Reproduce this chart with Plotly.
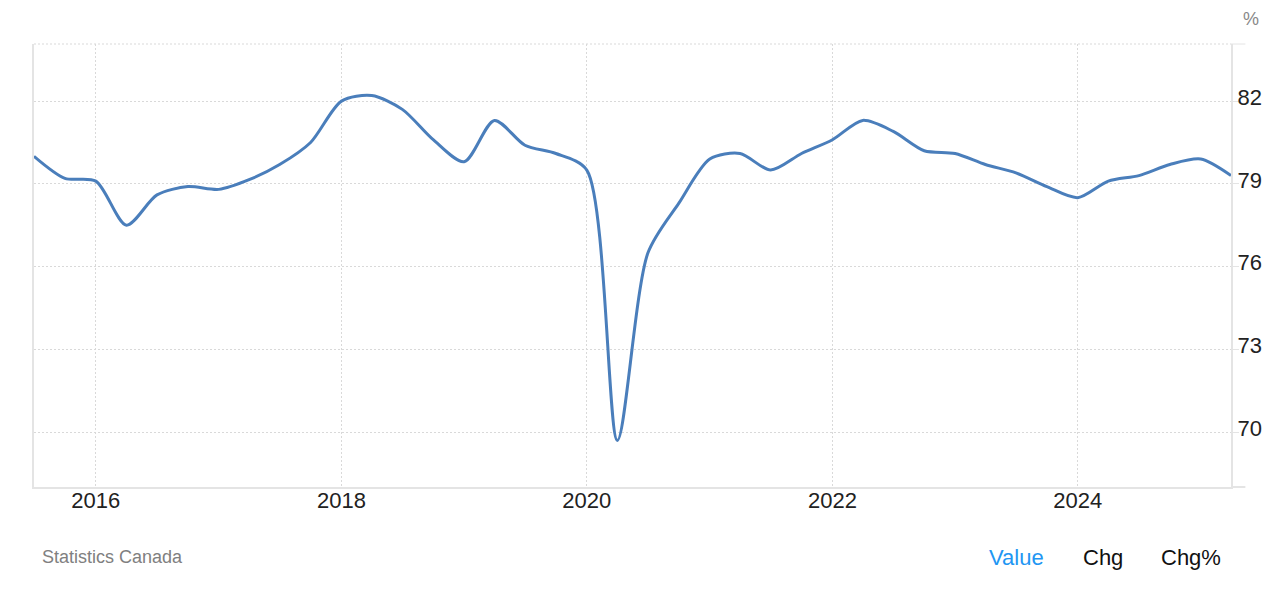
import plotly.graph_objects as go

quarters = [
    "2015-07-01", "2015-10-01",
    "2016-01-01", "2016-04-01", "2016-07-01", "2016-10-01",
    "2017-01-01", "2017-04-01", "2017-07-01", "2017-10-01",
    "2018-01-01", "2018-04-01", "2018-07-01", "2018-10-01",
    "2019-01-01", "2019-04-01", "2019-07-01", "2019-10-01",
    "2020-01-01", "2020-04-01", "2020-07-01", "2020-10-01",
    "2021-01-01", "2021-04-01", "2021-07-01", "2021-10-01",
    "2022-01-01", "2022-04-01", "2022-07-01", "2022-10-01",
    "2023-01-01", "2023-04-01", "2023-07-01", "2023-10-01",
    "2024-01-01", "2024-04-01", "2024-07-01", "2024-10-01",
    "2025-01-01", "2025-04-01",
]
capacity_utilization = [
    80.0, 79.2,
    79.1, 77.5, 78.6, 78.9,
    78.8, 79.15, 79.7, 80.5,
    82.0, 82.2, 81.7, 80.6,
    79.8, 81.3, 80.4, 80.1,
    79.5, 69.7, 76.5, 78.3,
    79.9, 80.1, 79.5, 80.1,
    80.6, 81.3, 80.9, 80.2,
    80.1, 79.7, 79.4, 78.9,
    78.5, 79.1, 79.3, 79.7,
    79.9, 79.3,
]
y_ticks = [70, 73, 76, 79, 82]
x_ticks = ["2016-01-01", "2018-01-01", "2020-01-01", "2022-01-01", "2024-01-01"]
x_tick_labels = ["2016", "2018", "2020", "2022", "2024"]
y_range = [68.01, 84.07]

FONT = "Liberation Sans, Arial, sans-serif"
GRID = "#d9d9d9"
BORDER = "#e4e4e4"

fig = go.Figure()
fig.add_trace(go.Scatter(
    x=quarters, y=capacity_utilization, mode="lines",
    line=dict(color="#4A7EBB", width=3, shape="spline", smoothing=0.8),
    hoverinfo="x+y", showlegend=False,
))

fig.update_layout(
    width=1263, height=585,
    margin=dict(l=26, r=40, t=36, b=106, autoexpand=False),
    paper_bgcolor="white", plot_bgcolor="white",
    font=dict(family=FONT, color="#222"),
    xaxis=dict(
        range=[quarters[0], quarters[-1]],
        tickvals=x_ticks, ticktext=x_tick_labels,
        tickfont=dict(size=22, color="#222"),
        showgrid=True, gridcolor=GRID, griddash="2px,2px", gridwidth=1,
        showline=True, linecolor=BORDER, linewidth=2,
        ticks="", ticklabelstandoff=-7, automargin=False,
        zeroline=False, fixedrange=True,
    ),
    yaxis=dict(
        side="right", range=y_range,
        tickvals=y_ticks, ticktext=[str(v) for v in y_ticks],
        tickfont=dict(size=22, color="#222"),
        showgrid=True, gridcolor=GRID, griddash="2px,2px", gridwidth=1,
        showline=True, mirror=True, linecolor=BORDER, linewidth=2,
        ticks="outside", ticklen=6, tickcolor=BORDER,
        ticklabelshift=-4, ticklabelstandoff=-6, automargin=False,
        zeroline=False, fixedrange=True,
    ),
    shapes=[
        dict(type="line", xref="paper", yref="paper", x0=0, x1=1, y0=1, y1=1,
             line=dict(color=GRID, width=1, dash="2px,2px")),
        dict(type="line", xref="paper", yref="paper", x0=1, x1=1.012, y0=1, y1=1,
             line=dict(color=BORDER, width=1)),
        dict(type="line", xref="paper", yref="paper", x0=1, x1=1.012, y0=0, y1=0,
             line=dict(color=BORDER, width=2)),
    ],
    annotations=[
        dict(text="%", xref="paper", yref="paper", x=1.0165, y=1.0, yshift=25,
             xanchor="center", yanchor="middle", showarrow=False,
             font=dict(size=18, color="#888")),
        dict(text="Statistics Canada", xref="paper", yref="paper", x=0, xshift=6,
             y=0, yshift=-70, xanchor="left", yanchor="middle", showarrow=False,
             font=dict(size=18, color="#808080")),
        dict(text="Value", xref="paper", yref="paper", x=0.821, y=0, yshift=-70,
             xanchor="center", yanchor="middle", showarrow=False,
             font=dict(size=22, color="#2196F3")),
        dict(text="Chg", xref="paper", yref="paper", x=0.8933, y=0, yshift=-70,
             xanchor="center", yanchor="middle", showarrow=False,
             font=dict(size=22, color="#111")),
        dict(text="Chg%", xref="paper", yref="paper", x=0.9666, y=0, yshift=-70,
             xanchor="center", yanchor="middle", showarrow=False,
             font=dict(size=22, color="#111")),
    ],
)

fig.write_html("out.html")
